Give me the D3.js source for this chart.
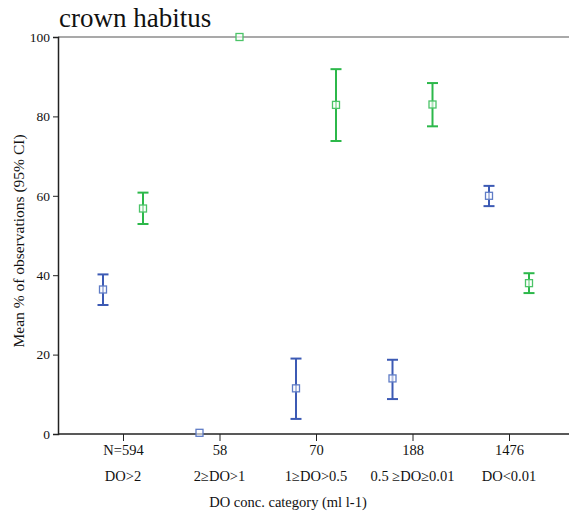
<!DOCTYPE html>
<html>
<head>
<meta charset="utf-8">
<script src="https://cdn.jsdelivr.net/npm/d3@7"></script>
<style>
  html, body { margin: 0; padding: 0; background: #fff; }
  svg { display: block; }
</style>
</head>
<body>
<svg id="chart" width="569" height="513"></svg>
<script>
// DO concentration categories with sample sizes
const categories = ["DO>2", "2\u2265DO>1", "1\u2265DO>0.5", "0.5 \u2265DO\u22650.01", "DO<0.01"];
const sampleSizes = ["N=594", "58", "70", "188", "1476"];

// Series 1 (blue): mean and 95% CI
const blueMean  = [36.4, 0.3, 11.5, 14.0, 60.0];
const blueLower = [32.5, 0.3, 3.8, 8.8, 57.4];
const blueUpper = [40.2, 0.3, 19.0, 18.7, 62.5];

// Series 2 (green): mean and 95% CI
const greenMean  = [56.8, 100, 82.9, 83.0, 38.0];
const greenLower = [52.9, 100, 73.8, 77.5, 35.5];
const greenUpper = [60.8, 100, 91.9, 88.4, 40.5];

const yTicks = [0, 20, 40, 60, 80, 100];

const SERIF = "'Liberation Serif', 'Times New Roman', serif";
const svg = d3.select("#chart");
const plotLeft = 58, plotRight = 569, plotTop = 37, plotBottom = 434;

const x = d3.scalePoint().domain(categories).range([123, 509]);
const y = d3.scaleLinear().domain([0, 100]).range([plotBottom, plotTop]);

// Title
svg.append("text").attr("x", 59).attr("y", 27)
  .attr("font-family", SERIF).attr("font-size", 27).attr("fill", "#111")
  .text("crown habitus");

// Top frame line
svg.append("line").attr("x1", plotLeft).attr("x2", plotRight)
  .attr("y1", plotTop).attr("y2", plotTop)
  .attr("stroke", "#555").attr("stroke-width", 1.2);

// Y axis
const yAxis = svg.append("g").attr("transform", `translate(${plotLeft},0)`)
  .call(d3.axisLeft(y).tickValues(yTicks).tickSize(5).tickPadding(3));
yAxis.attr("font-family", SERIF).attr("font-size", 13.5);
yAxis.select(".domain").attr("stroke", "#222").attr("stroke-width", 1.5);
yAxis.selectAll(".tick line").attr("stroke", "#222");
yAxis.selectAll(".tick text").attr("fill", "#111");

// X axis
const xAxis = svg.append("g").attr("transform", `translate(0,${plotBottom})`)
  .call(d3.axisBottom(x).tickSize(7).tickFormat((d, i) => sampleSizes[i]).tickPadding(4));
xAxis.attr("font-family", SERIF).attr("font-size", 14.5);
xAxis.select(".domain").attr("d", `M${plotLeft},0H${plotRight}`)
  .attr("stroke", "#222").attr("stroke-width", 1.3);
xAxis.selectAll(".tick line").attr("stroke", "#222");
xAxis.selectAll(".tick text").attr("fill", "#111");

// Category labels under sample sizes
svg.append("g").selectAll("text").data(categories).join("text")
  .attr("x", d => x(d)).attr("y", 481)
  .attr("text-anchor", "middle")
  .attr("font-family", SERIF).attr("font-size", 14.5).attr("fill", "#111")
  .text(d => d);

// Axis titles
svg.append("text").attr("x", 288).attr("y", 507)
  .attr("text-anchor", "middle")
  .attr("font-family", SERIF).attr("font-size", 14.5).attr("fill", "#111")
  .text("DO conc. category (ml l-1)");
svg.append("text")
  .attr("transform", "translate(24,241) rotate(-90)")
  .attr("text-anchor", "middle")
  .attr("font-family", SERIF).attr("font-size", 15.5).attr("fill", "#111")
  .text("Mean % of observations (95% CI)");

// Error bars with square markers
function drawSeries(mean, lower, upper, offset, color, markerColor) {
  const g = svg.append("g");
  const data = categories.map((c, i) => ({ c, m: mean[i], lo: lower[i], hi: upper[i] }));
  const cx = d => x(d.c) + offset;
  const bars = data.filter(d => d.hi - d.lo > 0.5);
  g.selectAll("line.v").data(bars).join("line")
    .attr("class", "v")
    .attr("x1", cx).attr("x2", cx)
    .attr("y1", d => y(d.hi)).attr("y2", d => y(d.lo))
    .attr("stroke", color).attr("stroke-width", 2);
  ["hi", "lo"].forEach(k => {
    g.selectAll("line.c" + k).data(bars).join("line")
      .attr("class", "c" + k)
      .attr("x1", d => cx(d) - 5.5).attr("x2", d => cx(d) + 5.5)
      .attr("y1", d => y(d[k])).attr("y2", d => y(d[k]))
      .attr("stroke", color).attr("stroke-width", 2);
  });
  g.selectAll("rect").data(data).join("rect")
    .attr("x", d => cx(d) - 3.5).attr("y", d => y(d.m) - 3.5)
    .attr("width", 7).attr("height", 7)
    .attr("fill", "#fff").attr("fill-opacity", 0.6)
    .attr("stroke", markerColor).attr("stroke-width", 1.3);
}

drawSeries(blueMean, blueLower, blueUpper, -20, "#3c5ab4", "#5f7cc6");
drawSeries(greenMean, greenLower, greenUpper, 20, "#2cb84a", "#4cc468");
</script>
</body>
</html>
